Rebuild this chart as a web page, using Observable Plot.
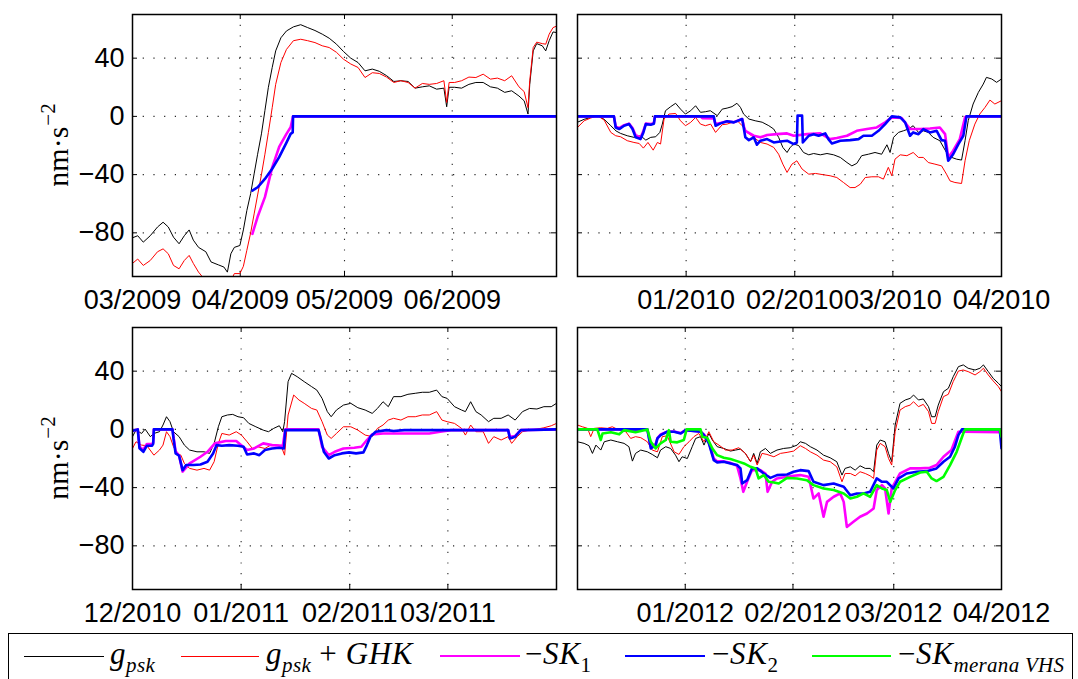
<!DOCTYPE html>
<html><head><meta charset="utf-8">
<script src="https://cdn.jsdelivr.net/npm/d3@7"></script>
<script src="https://cdn.jsdelivr.net/npm/@observablehq/plot@0.6"></script>
<style>
body{margin:0;background:#fff;}
#wrap{position:relative;width:1078px;height:679px;overflow:hidden;background:#fff;}
.panel{position:absolute;}
.ylab{position:absolute;font-family:"Liberation Serif","Times New Roman",serif;font-size:30px;transform:translate(-50%,-50%) rotate(-90deg);white-space:nowrap;line-height:1;}
.ylab .sup{font-size:21px;position:relative;top:-13px;margin-left:1px;}
#legend{position:absolute;left:8px;top:633px;width:1065px;height:60px;border:1.5px solid #000;box-sizing:border-box;background:#fff;}
.lg-line{position:absolute;height:0;}
.lg-text{position:absolute;font-family:"Liberation Serif","Times New Roman",serif;font-size:31px;letter-spacing:0.6px;white-space:nowrap;line-height:1;}
.lg-text i{font-style:italic;}
.lg-text .sb{font-size:21px;position:relative;top:8px;letter-spacing:0.3px;}
</style></head>
<body><div id="wrap"></div>
<script>
// ---------- data ----------
const yTicks = [40, 0, -40, -80];
const yDomain = [-110, 70];

// Panel 1: 03/2009 - 06/2009 (day offsets from 2009-03-01)
const p1Start = "2009-03-01", p1End = "2009-07-01";
const p1Ticks = ["2009-03-01", "2009-04-01", "2009-05-01", "2009-06-01"];
const p1TickText = ["03/2009", "04/2009", "05/2009", "06/2009"];
const p1Grid = ["2009-04-01", "2009-05-01", "2009-06-01"];
const p1Gpsk = [[0,-83.4],[1.5,-82],[3.1,-86.4],[5.1,-82],[7.2,-76],[8.8,-72.7],[10.3,-76],[11.8,-83],[13.4,-87.5],[14.9,-82],[16.3,-78],[17.5,-85],[19,-90],[21.1,-93],[22.6,-100],[24.7,-102],[26.3,-103.5],[27.3,-107],[28.3,-94.4],[29.3,-90],[30.9,-88.7],[31.9,-78],[32.9,-64.7],[34,-53],[35,-39.5],[36,-26],[37.1,-12],[38.1,4],[39.1,20],[40.2,33.6],[41.2,45],[42.7,54],[44.3,58.7],[46.3,61.5],[48.4,63],[50.4,61],[52.5,59],[54.6,56.5],[56.6,53.7],[58.7,49.6],[60.7,44.6],[62.8,40],[64.9,37],[66.9,31.3],[69,32.5],[71,31],[73.1,28],[75.2,24],[77.2,24.5],[79.3,24],[81.3,19.4],[83.4,20.3],[85.4,21],[87.5,18.7],[89.6,19.4],[90.4,6.6],[91.1,20],[92.7,20],[94.7,19.4],[96.8,22],[98.8,23.3],[100.9,23.3],[103,20.3],[105,19.4],[107.1,16.5],[109.1,17.6],[111.2,14],[112.7,10.7],[113.8,1.6],[114.3,22],[115.3,45],[116.3,50],[117.9,48.5],[118.9,45],[119.9,52],[121,58],[122,57.6]];
const p1GpskGhk = [[0,-101],[1.5,-98],[3.1,-102.4],[5.1,-99],[7.2,-93],[8.8,-91],[10.3,-94.4],[11.8,-102.4],[13.4,-104.7],[14.9,-99],[16.3,-95.5],[17.5,-101],[19,-107],[21.1,-113],[22.6,-115],[24.7,-116],[26.3,-116],[27.3,-116],[28.3,-113],[29.3,-108],[30.9,-108],[31.9,-103],[32.9,-92],[34,-80],[35,-67],[36,-54],[37.1,-40],[38.1,-26],[39.1,-11],[40.2,6],[41.2,22],[42.7,37],[44.3,46],[46.3,52],[48.4,53],[50.4,52],[52.5,50.7],[54.6,48.5],[56.6,47.3],[58.7,44],[60.7,39.3],[62.8,36],[64.9,33.6],[66.9,26.7],[69,30],[71,29.5],[73.1,27],[75.2,23.3],[77.2,24.5],[79.3,23.3],[81.3,19.4],[83.4,22.6],[85.4,22],[87.5,22.6],[89.6,24.5],[90.4,9.6],[91.1,23.3],[92.7,23.3],[94.7,24.5],[96.8,27],[98.8,26.7],[100.9,29],[103,25.6],[105,26.3],[107.1,24.5],[109.1,27.9],[111.2,20.3],[112.7,17],[113.8,6],[114.3,24.5],[115.3,47.3],[116.3,51],[117.9,50],[118.9,49.6],[119.9,56.5],[121,61],[122,62]];
const p1SK1 = [[34.5,-80.7],[36,-69],[38.1,-55.5],[40.2,-35],[42.2,-21],[44.3,-12],[45.5,-7.5],[46.2,0],[122,0]];
const p1SK2 = [[34.5,-51],[36,-48.7],[38.1,-43],[40.2,-36],[42.2,-28],[44.3,-18],[45.5,-12],[46.1,-11],[46.2,0],[122,0]];

// Panel 2: 12/2009 - 03/2010 (day offsets from 2009-12-01)
const p2Start = "2009-12-01", p2End = "2010-04-01";
const p2Ticks = ["2010-01-01", "2010-02-01", "2010-03-01", "2010-04-01"];
const p2TickText = ["01/2010", "02/2010", "03/2010", "04/2010"];
const p2Grid = ["2010-01-01", "2010-02-01", "2010-03-01"];
const p2Gpsk = [[0,-4],[1.9,-2],[3.8,-0.7],[5.7,0.5],[7.6,-2],[9.5,-6.4],[11,-10],[12.3,-11.7],[14.2,-13.3],[16.1,-14.4],[18,-13.3],[19.5,-16.3],[20.9,-14.4],[22.3,-14],[23.5,-11],[24.2,-5.3],[25.1,3.9],[26.6,6.7],[28,9],[29.4,5],[30.8,1.6],[32.3,3.9],[33.7,7.3],[35.1,2.8],[36.5,3.2],[37.9,3.9],[39.9,0.5],[41.3,5],[42.7,5.7],[44.1,6.7],[45.5,9],[46.5,6.2],[47.4,1.6],[48.9,-1.8],[50.7,-3],[52.7,-4],[54.6,-6.4],[56,-8.7],[57.4,-14.4],[58.6,-21.3],[59.8,-24.8],[60.7,-21.3],[61.7,-19],[63.1,-20],[64.5,-24.8],[66,-26.4],[67.4,-25.5],[69.3,-26.4],[71.2,-25.5],[73.1,-26.4],[75,-28.2],[76.9,-31.7],[78.3,-34],[79.7,-32.3],[81.1,-27],[83,-26],[84.9,-24.8],[86.8,-26],[88.3,-19.5],[89.2,-24.8],[90.2,-14.4],[91.6,-11],[93,-9.9],[94.4,-8.7],[95.8,-6.4],[97.3,-11],[98.7,-9.9],[100.1,-11],[101.5,-14.4],[103.4,-16.7],[105.3,-24.8],[106.8,-28.2],[108.2,-29.4],[109.6,-30],[110.6,-16.7],[111.5,-3],[112.9,8.5],[114.4,16.5],[115.8,22.2],[116.7,26.8],[118.2,25.7],[119.6,23.4],[121,25.7]];
const p2GpskGhk = [[0,-7.6],[1.9,-3],[3.8,-1.1],[5.7,0.5],[7.6,-2.5],[9.5,-11],[10.9,-13.3],[12.3,-14],[14.2,-16.7],[16.1,-17.9],[17.6,-18.6],[18.8,-21.8],[20.1,-17.9],[21.6,-23.2],[22.8,-17.9],[23.7,-19],[24.7,-1.8],[26.1,1.6],[28,2],[29.4,-3],[30.8,-6.4],[32.3,-4.1],[33.7,-0.7],[35.1,-5.3],[36.5,-6.4],[38,-5.3],[39.4,-11],[41.3,-5.7],[42.7,-5.3],[44.1,-4.1],[45.6,-3],[47,-6.4],[48.4,-11],[50.3,-14.4],[52.2,-17.9],[54.1,-19],[56,-21.3],[57.4,-26],[58.6,-32.8],[59.8,-38.5],[61.2,-32.8],[62.6,-30.5],[64.1,-36.2],[66,-39.7],[67.9,-39.2],[70.2,-40.1],[72.1,-40.8],[74,-42],[75.9,-45.4],[77.8,-48.9],[79.2,-48.9],[80.7,-46.6],[82.1,-42],[84,-41.5],[85.9,-41.5],[87.3,-43.1],[88.7,-35],[89.7,-40.8],[90.6,-29.4],[92.1,-26.4],[94,-27],[95.8,-24.8],[97.3,-28.2],[98.7,-28.2],[100.1,-31.7],[102,-32.8],[103.9,-34],[105.3,-39.7],[106.3,-44.3],[107.7,-45.4],[109.6,-46.1],[110.6,-30.5],[111.8,-16.7],[113.4,-5.3],[114.8,1.6],[116.3,6.2],[117.7,11.2],[119.1,8.5],[121,10.8]];
const p2SK1 = [[0,0],[10.4,0],[10.9,-7],[11.9,-8],[13.3,-6],[14.7,-5],[15.7,-8],[16.6,-13],[18,-14.5],[18.8,-10],[19.5,-5],[20.9,-5.3],[21.8,-4.5],[22.1,0],[35.1,0],[35.6,-1.2],[38.9,-1.5],[39.4,-5.3],[40.8,-4.5],[42.7,-3.4],[44.6,-4],[47,-1.8],[47.5,-7],[47.9,-10],[50.3,-13.3],[52.2,-14.4],[54.1,-12.8],[56.9,-12.2],[59.8,-11.7],[61.7,-13.3],[65.5,-12.2],[69.3,-11.7],[72.1,-15.6],[74,-14.9],[76.9,-13.3],[79.7,-9.9],[82.6,-8.7],[85.4,-7.6],[87.8,-4.1],[89.7,-0.7],[92.5,-1.1],[94.9,-8.7],[97.8,-8.7],[100.6,-8.3],[103.4,-7.6],[104.9,-12.2],[105.8,-28.2],[107.2,-23.6],[109.1,-15.6],[110.6,-0.7],[111,0],[121,0]];
const p2SK2 = [[0,0],[10.4,0],[10.9,-7.6],[11.9,-8.7],[13.3,-6.4],[14.7,-5.3],[15.7,-8.7],[16.6,-14.4],[18,-15.6],[18.8,-11],[19.5,-5.3],[20.9,-5.7],[21.8,-5],[22.1,0],[38.9,0],[39.4,-6.4],[40.8,-4.8],[42.7,-3.4],[44.6,-4.1],[47,-1.8],[47.5,-8.7],[47.9,-14.4],[48.9,-16.3],[50.3,-14.4],[51.2,-19.5],[52.2,-16.7],[54.1,-15.6],[56,-17.9],[57.9,-17.2],[59.8,-16.7],[61.7,-19],[62.6,-18],[62.8,0.5],[64.1,0.5],[64.3,-17.9],[66,-13.3],[67.4,-12.2],[68.8,-13.3],[70.7,-11.7],[71.6,-15.6],[72.6,-18.6],[75,-16.7],[77.8,-16.3],[80.2,-15.6],[81.6,-13.3],[84,-13.3],[85.9,-9.9],[87.8,-5.3],[89.7,0],[92.1,-0.7],[93.5,-4.1],[94.9,-13.3],[95.8,-11],[97.3,-12.2],[98.7,-8.7],[100.6,-11],[102.5,-9.9],[103.9,-16.3],[104.9,-16.7],[105.8,-30.5],[107.2,-26],[108.7,-19],[110.1,-13.3],[111,0],[121,0]];

// Panel 3: 12/2010 - 03/2011 (day offsets from 2010-12-01)
const p3Start = "2010-12-01", p3End = "2011-04-01";
const p3Ticks = ["2010-12-01", "2011-01-01", "2011-02-01", "2011-03-01"];
const p3TickText = ["12/2010", "01/2011", "02/2011", "03/2011"];
const p3Grid = ["2011-01-01", "2011-02-01", "2011-03-01"];
const p3Gpsk = [[0,-5],[1,-0.5],[2.6,-2.8],[3.6,0.2],[5.1,-5],[6.1,-2.8],[7.7,-1.6],[8.7,3],[9.7,8.7],[10.7,5.3],[11.7,-1.6],[13.3,-5],[14.8,-10.8],[16.3,-14.2],[18.4,-15.4],[20.4,-15.4],[22,-16.5],[23.3,-9.6],[24.5,1.8],[25.5,8.7],[27.1,9.9],[28.6,10.3],[30.1,8.7],[31.7,8],[33.2,4.1],[35.2,1.8],[37.3,-0.5],[38.8,-1.6],[40.3,0.7],[41.9,2.5],[42.9,-1.6],[43.4,5.3],[44.4,32.8],[45.4,38.5],[47,36.2],[49,32.8],[51.1,29.4],[52.6,27],[54.1,21.3],[55.6,12.2],[56.7,8.7],[58.2,13.3],[60.2,16.7],[62.3,17.9],[64.3,14.9],[66.4,13.3],[68.4,11],[69.9,14.4],[71.5,19],[73,15.6],[74.5,22.5],[76.6,22.5],[78.6,24.1],[80.7,24.8],[82.7,25.5],[84.7,25.5],[86.8,27],[88.3,22.5],[89.8,21.3],[91.9,15.6],[93.9,13.3],[95,12.2],[96.5,19],[98,12.2],[99.5,9.9],[101.6,5.3],[103.1,7.6],[105.2,7.6],[107.2,9.9],[109.2,6.4],[111.3,12.2],[113.3,14.4],[115.4,14],[117.4,15.6],[119.5,15.6],[121,17.9]];
const p3GpskGhk = [[0,-13.1],[1,-8.5],[2.6,-10.8],[4.1,-11.2],[6.1,-17.7],[7.7,-14.2],[8.7,-10.8],[9.7,-1.6],[10.7,-5],[11.7,-11.9],[12.8,-16.5],[13.8,-17.7],[14.8,-23.4],[16.3,-26.8],[18.4,-28],[20.4,-26.8],[22,-28],[23.3,-22.2],[24.5,-9.6],[25.5,-2.8],[27.6,-3.9],[29.6,-1.6],[31.1,-3.9],[32.7,-8.5],[34.2,-13.1],[35.7,-11.9],[37.8,-13.1],[39.8,-10.3],[42.4,-11.2],[43.4,-17.7],[44.4,9.9],[46,23.6],[47.5,20.2],[49,17.9],[51.1,14.4],[52.6,13.3],[54.1,5.3],[55.6,-3.9],[56.7,-6.2],[58.2,-2.8],[60.2,1.8],[62.3,1.8],[64.3,-0.5],[66.4,-3.9],[68.4,-5],[69.9,0.7],[71.5,3],[73,6.4],[74.5,7.6],[76.6,6.4],[78.6,8.7],[80.7,8.7],[82.7,9.9],[84.7,9.9],[86.8,12.2],[88.3,6.4],[89.8,5.3],[91.9,4.1],[93.9,0.7],[95,-3.9],[96.5,3],[98,-1.6],[100.1,-1.6],[101.6,-9.6],[103.1,-5],[105.2,-7.3],[107.2,-5],[108.2,-9.6],[109.8,-5],[111.3,-1.6],[113.3,-0.5],[115.4,0.2],[117.4,1.1],[119.5,2.5],[121,4.1]];
const p3SK1 = [[0,-1],[1.5,0],[2,-12],[3.1,-14],[4.1,-10],[5.6,-10],[5.9,-9],[6.1,0],[11.4,0],[11.7,-5],[12.3,-15],[13.3,-18],[14.3,-29],[16.3,-23.4],[19.4,-18.8],[21.4,-15.4],[23.5,-9.6],[26.6,-8],[29.6,-8],[32.7,-14.2],[34.7,-13.1],[37.3,-9.6],[39.8,-10.8],[42.9,-11.2],[43.6,0],[53.1,0],[54.1,-12],[56,-17.7],[57.7,-15.4],[60.2,-13.1],[63.3,-12.6],[65.3,-11.9],[66.9,-7.3],[68.4,-3.4],[71.5,-2.8],[74.5,-2.8],[79.6,-2.8],[84.7,-2.8],[87.8,-1.6],[90.9,-0.5],[107.2,-0.5],[107.7,-5],[109.2,-4.5],[110.8,-0.5],[121,0]];
const p3SK2 = [[0,-1],[1.5,0],[2,-13],[3.1,-15.4],[4.1,-11.2],[5.6,-11.2],[5.9,-10],[6.1,0],[11.4,0],[11.7,-6.2],[12.3,-16.5],[13.3,-18.1],[14.3,-28],[15.3,-24.5],[17.4,-24.5],[19.4,-24.1],[21.4,-22.2],[23,-16.5],[24,-10.8],[25.5,-11.2],[27.6,-10.8],[30.1,-11.2],[31.7,-11.9],[32.7,-17.2],[34.7,-16.5],[36.2,-17.7],[37.8,-14.2],[39.8,-13.1],[41.9,-12.6],[43.2,-13.1],[43.6,-0.5],[53.1,-0.5],[53.6,-5],[54.6,-15.4],[56,-20],[57.7,-17.7],[59.7,-16.5],[61.8,-15.8],[63.8,-16.5],[65.9,-15.8],[66.9,-10.8],[67.9,-5],[69.4,-1.6],[72.5,-0.5],[74.5,-1.1],[77.6,-0.5],[107.2,-0.5],[107.7,-6.2],[109.2,-5],[110.8,-0.5],[121,0]];

// Panel 4: 12/2011 - 03/2012 (day offsets from 2011-12-01)
const p4Start = "2011-12-01", p4End = "2012-04-01";
const p4Ticks = ["2012-01-01", "2012-02-01", "2012-03-01", "2012-04-01"];
const p4TickText = ["01/2012", "02/2012", "03/2012", "04/2012"];
const p4Grid = ["2012-01-01", "2012-02-01", "2012-03-01"];
const p4Gpsk = [[0,-8.5],[1.9,-9.6],[3.3,-11.2],[4.3,-16.5],[5.3,-10.8],[6.7,-14.2],[7.7,-8.5],[9.6,-7.3],[11.5,-8.5],[13.4,-9.6],[14.8,-11.9],[15.8,-21.8],[16.7,-16.5],[18.2,-14.2],[20.1,-15.4],[21.5,-17.2],[23,-19.5],[23.9,-14.2],[25.4,-11.9],[26.8,-13.1],[28.2,-17.7],[29.2,-22.2],[30.1,-18.8],[31.6,-20],[33,-11.9],[34,-6.2],[35.4,-5],[36.4,-10.8],[37.8,-2.8],[38.8,-7.3],[40.2,-11.9],[42.1,-13.1],[44,-14.9],[45.5,-14.2],[46.9,-13.5],[48.3,-16.5],[49.8,-22.2],[50.7,-16.5],[51.7,-23.4],[52.6,-15.4],[54.1,-13.1],[55.5,-16.5],[57.4,-14.2],[59.3,-13.1],[61.2,-12.6],[63.2,-10.8],[64.1,-8.5],[65.6,-9.6],[67,-11.9],[68.9,-14.2],[70.8,-17.7],[72.7,-19.5],[74.6,-22.2],[76.1,-31.4],[77,-26.8],[78.5,-25.7],[79.9,-28],[81.3,-25],[82.8,-26.8],[84.2,-26.8],[85.2,-29.1],[86.1,-10.8],[87.1,-7.3],[88.5,-8.5],[89.5,-16.5],[90.4,-22.2],[91.4,3],[92.8,17.9],[94.3,20.2],[95.7,21.3],[96.7,23.6],[98.1,20.2],[99.5,20.9],[101,15.6],[101.9,8.7],[102.9,8.7],[103.8,16.7],[105.3,25.9],[106.7,28.2],[108.1,36.2],[109.6,43.1],[111,44.3],[112.4,42],[114.4,40.8],[115.8,42],[116.8,44.3],[118.2,39.7],[119.6,35.1],[121.1,31.7],[122,29.4]];
const p4GpskGhk = [[0,3],[1.4,1.8],[2.9,0.7],[3.8,-5],[4.8,0.7],[6.7,1.1],[8.6,0.7],[10,1.8],[12,-0.5],[13.9,-1.6],[15.3,-6.2],[16.7,-5],[18.2,-5.7],[20.1,-8.5],[21.5,-14.2],[23,-15.4],[24.4,-5],[25.8,-4.4],[27.8,-15.4],[29.2,-17.2],[30.6,-11.9],[32.1,-8.5],[33.5,-5],[34.9,-2.8],[36.4,-8.5],[37.8,-1.6],[39.2,-8.5],[40.7,-10.8],[42.6,-14.2],[44.5,-14.2],[46.4,-12.6],[48.3,-16.5],[49.8,-22.2],[50.7,-17.7],[51.7,-24.5],[53.1,-16.5],[54.5,-17.2],[56.5,-18.8],[58.4,-16.5],[60.3,-15.8],[62.2,-14.9],[64.1,-11.2],[65.6,-13.1],[67,-15.4],[68.9,-17.7],[70.8,-21.1],[72.7,-22.2],[74.6,-25.7],[76.1,-36],[77,-30.3],[78.5,-30.3],[79.9,-31.9],[81.3,-29.1],[82.8,-30.3],[84.2,-31.9],[85.2,-33.7],[86.1,-14.2],[87.1,-9.6],[88.5,-11.9],[89.5,-20],[90.4,-24.5],[91.4,-1.6],[92.8,13.3],[94.3,15.6],[95.7,16.7],[96.7,19],[98.1,15.6],[99.5,17.2],[101,12.2],[101.9,4.1],[102.9,4.1],[103.8,12.2],[105.3,22.5],[106.7,24.1],[108.1,32.8],[109.6,40.1],[111,40.8],[112.4,39.7],[114.4,37.4],[115.8,39.7],[116.8,42],[118.2,37.4],[119.6,33.3],[121.1,29.4],[122,25.9]];
const p4SK1 = [[0,0],[20.1,0],[21.1,-12],[22.5,-10],[23,-6],[23.9,-3.5],[25.8,-1.5],[27.8,-1.5],[29.7,-2.5],[31.1,-0.5],[35.4,-1.5],[36.4,-3.5],[37.8,-9],[39.2,-20],[40.2,-22],[42.1,-22],[44,-23],[45.9,-25],[46.9,-33.7],[47.7,-42.9],[48.8,-36],[50.2,-28],[52.6,-28],[54.1,-30.3],[54.7,-42.9],[56,-36],[57.4,-33.7],[60.3,-32.6],[62.2,-31.9],[64.1,-31.4],[66.5,-32.6],[67.9,-47.5],[69.4,-44],[70.8,-60],[71.8,-49.8],[73.7,-46.3],[75.6,-44],[76.6,-49.8],[77.5,-67],[79.4,-63.5],[81.3,-60],[83.3,-57.8],[85.2,-54.4],[86.1,-41.7],[87.6,-38.3],[88.5,-40.6],[89.5,-57.8],[90.4,-40.6],[92.8,-30.3],[95.7,-26.8],[98.6,-26.8],[101.4,-26.4],[103.3,-24.5],[105.3,-18.8],[107.6,-14.2],[109.6,-1.6],[111,-1.6],[121.5,-2],[122,-2]];
const p4SK2 = [[0,0],[20.1,0],[21.1,-13.1],[22.5,-10.8],[23,-6.2],[23.9,-3.9],[25.8,-1.6],[27.8,-1.6],[29.7,-2.8],[31.1,-0.5],[35.4,-1.6],[36.4,-3.9],[37.8,-9.6],[39.2,-21.1],[40.2,-22.7],[42.1,-22.2],[44,-23.4],[45.9,-24.5],[46.9,-26.8],[47.4,-37.2],[48.8,-34.9],[50.2,-26.8],[51.7,-26.8],[53.6,-30.3],[55.5,-33.3],[57.4,-31.4],[60.3,-31],[62.2,-29.1],[64.1,-28],[66.5,-28.7],[67.9,-36],[70.8,-38.3],[73.7,-37.2],[76.6,-39.4],[78.5,-45.2],[80.4,-44],[82.3,-44],[84.2,-42.9],[86.1,-33.7],[87.6,-36],[89,-36],[90.9,-40.6],[92.4,-33.7],[94.7,-30.3],[97.6,-29.1],[100.5,-28.7],[103.3,-26.8],[105.3,-22.2],[107.2,-18.8],[108.6,-11.9],[109.6,-3.9],[110.6,0],[121.5,0],[122,-13]];
const p4SKvhs = [[0,0],[5.7,0],[6.7,-7.3],[7.2,-2.8],[9.6,-2],[12,-3.4],[13.4,-0.5],[16.7,-2],[20.1,0],[21.1,-8.5],[22.5,-13.1],[23.9,-9.6],[25.4,-7.3],[26.3,-0.5],[26.8,-8.5],[28.7,-8.9],[30.6,-7.3],[31.4,0],[35.4,0],[35.9,-5],[37.3,-5.7],[38.8,-13.1],[40.2,-17.7],[42.1,-19.5],[44,-20.4],[45.9,-21.8],[47.9,-23.4],[49.8,-25.7],[51.2,-26.8],[52.1,-33.7],[53.6,-31.4],[55,-36],[56.5,-36.5],[57.9,-37.2],[60.3,-33.3],[63.2,-33.7],[66,-34.9],[67.9,-38.3],[70.8,-40.6],[73.7,-41.7],[76.6,-44],[78.5,-47.5],[80.4,-46.3],[82.3,-44],[84.2,-46.3],[86.1,-38.3],[87.6,-40.6],[89,-41.7],[90,-49.8],[91.4,-41.7],[92.8,-36],[95.7,-32.6],[98.6,-29.6],[100.5,-29.1],[101.9,-33.7],[103.3,-35.5],[105.3,-32.6],[107.2,-24.5],[109.1,-15.4],[111,-2.8],[111.5,0],[121.5,0],[122,-5]];

const seriesNames = ["g_psk", "g_psk + GHK", "-SK1", "-SK2", "-SK merana VHS"];
const seriesColors = ["#000000", "#ff0000", "#ff00ff", "#0000ff", "#00ff00"];
const seriesWidths = [1, 1, 2.6, 2.6, 2.6];

// ---------- drawing ----------
const DAY = 864e5;
const utc = s => new Date(s + "T00:00:00Z");
const wrap = document.getElementById("wrap");

function panel(cfg) {
  const start = utc(cfg.start), end = utc(cfg.end);
  const at = d => new Date(start.getTime() + d * DAY);
  const W = cfg.width - cfg.ml - cfg.mr, H = 320 - 14 - 44;
  const tickDates = cfg.ticks.map(utc);
  const gridDates = cfg.grid.map(utc);
  const fmt = new Map(tickDates.map((d, i) => [+d, cfg.tickText[i]]));
  const dotted = {stroke: "#000", strokeOpacity: 0.85, strokeWidth: 1.1, strokeDasharray: "1.2,9.5"};
  const marks = [
    Plot.gridY(yTicks, dotted),
    Plot.gridX(gridDates, dotted),
    Plot.tickY(yTicks, {y: d => d, insetRight: W - 5, stroke: "#000"}),
    Plot.tickY(yTicks, {y: d => d, insetLeft: W - 5, stroke: "#000"}),
    Plot.tickX(tickDates, {x: d => d, insetTop: H - 5, stroke: "#000"}),
    Plot.tickX(tickDates, {x: d => d, insetBottom: H - 5, stroke: "#000"})
  ];
  cfg.series.forEach((s, i) => {
    if (!s) return;
    marks.push(Plot.line(s, {x: d => at(d[0]), y: d => d[1], stroke: seriesColors[i], strokeWidth: seriesWidths[i], clip: true, strokeLinejoin: "round"}));
  });
  marks.push(Plot.axisX(tickDates, {tickSize: 0, tickPadding: 13, tickFormat: d => fmt.get(+d), label: null}));
  if (cfg.showY) marks.push(Plot.axisY(yTicks, {tickSize: 0, tickPadding: 8, label: null}));
  marks.push(Plot.frame({stroke: "#000", strokeWidth: 1.5}));
  const svg = Plot.plot({
    width: cfg.width, height: 320,
    marginLeft: cfg.ml, marginRight: cfg.mr, marginTop: 14, marginBottom: 44,
    x: {type: "utc", domain: [start, end]},
    y: {domain: yDomain, axis: cfg.showY ? undefined : null},
    style: {fontFamily: '"Liberation Sans", Arial, Helvetica, sans-serif', fontSize: "27px", color: "#000", background: "transparent", overflow: "visible"},
    marks
  });
  const div = document.createElement("div");
  div.className = "panel";
  div.style.left = cfg.left + "px";
  div.style.top = cfg.top + "px";
  div.style.width = cfg.width + "px";
  div.appendChild(svg);
  wrap.appendChild(div);
}

panel({start: p1Start, end: p1End, ticks: p1Ticks, tickText: p1TickText, grid: p1Grid,
  series: [p1Gpsk, p1GpskGhk, p1SK1, p1SK2, null], left: 0, top: 0, width: 560, ml: 132, mr: 4, showY: true});
panel({start: p2Start, end: p2End, ticks: p2Ticks, tickText: p2TickText, grid: p2Grid,
  series: [p2Gpsk, p2GpskGhk, p2SK1, p2SK2, null], left: 560, top: 0, width: 518, ml: 17, mr: 77, showY: false});
panel({start: p3Start, end: p3End, ticks: p3Ticks, tickText: p3TickText, grid: p3Grid,
  series: [p3Gpsk, p3GpskGhk, p3SK1, p3SK2, null], left: 0, top: 313, width: 560, ml: 132, mr: 4, showY: true});
panel({start: p4Start, end: p4End, ticks: p4Ticks, tickText: p4TickText, grid: p4Grid,
  series: [p4Gpsk, p4GpskGhk, p4SK1, p4SK2, p4SKvhs], left: 560, top: 313, width: 518, ml: 17, mr: 77, showY: false});

// y labels
[145, 458].forEach(cy => {
  const d = document.createElement("div");
  d.className = "ylab";
  d.style.left = "58px";
  d.style.top = cy + "px";
  d.innerHTML = 'nm·s<span class="sup">−2</span>';
  wrap.appendChild(d);
});

// legend
const legend = document.createElement("div");
legend.id = "legend";
wrap.appendChild(legend);
const legendItems = [
  {x1: 24, x2: 104, tx: 110, html: '<i>g</i><span class="sb"><i>psk</i></span>'},
  {x1: 181, x2: 259, tx: 266, html: '<i>g</i><span class="sb"><i>psk</i></span> + <i>GHK</i>'},
  {x1: 440, x2: 520, tx: 525, html: '−<i>SK</i><span class="sb">1</span>'},
  {x1: 625, x2: 705, tx: 712, html: '−<i>SK</i><span class="sb">2</span>'},
  {x1: 812, x2: 891, tx: 898, html: '−<i>SK</i><span class="sb"><i>merana VHS</i></span>'}
];
legendItems.forEach((it, i) => {
  const ln = document.createElement("div");
  ln.className = "lg-line";
  ln.style.left = it.x1 + "px";
  ln.style.width = (it.x2 - it.x1) + "px";
  ln.style.top = (656 - seriesWidths[i] / 2) + "px";
  ln.style.borderTop = seriesWidths[i] + "px solid " + seriesColors[i];
  wrap.appendChild(ln);
  const t = document.createElement("div");
  t.className = "lg-text";
  t.style.left = it.tx + "px";
  t.style.top = "638px";
  t.innerHTML = it.html;
  t.title = seriesNames[i];
  wrap.appendChild(t);
});
</script>
</body></html>
